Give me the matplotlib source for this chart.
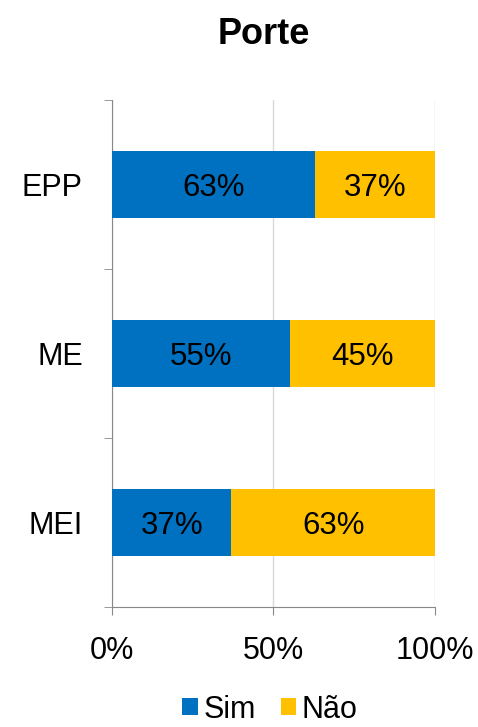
import matplotlib.pyplot as plt
from matplotlib.ticker import FixedLocator

plt.rcParams['font.family'] = ['Liberation Sans', 'DejaVu Sans']

categorias = ['MEI', 'ME', 'EPP']
sim = [37, 55, 63]
nao = [63, 45, 37]

fig = plt.figure(figsize=(4.78, 7.27), dpi=100)
ax = fig.add_axes([0.2343, 0.165, 0.6757, 0.6974])

y = range(len(categorias))
b1 = ax.barh(y, sim, height=0.4, color='#0070C0', label='Sim', zorder=3)
b2 = ax.barh(y, nao, left=sim, height=0.4, color='#FFC000', label='Não', zorder=3)

for i in y:
    ax.text(sim[i] / 2, i - 0.02, f'{sim[i]}%', ha='center', va='center', fontsize=22.5, zorder=4)
    ax.text(sim[i] + nao[i] / 2, i - 0.02, f'{nao[i]}%', ha='center', va='center', fontsize=22.5, zorder=4)

ax.set_xlim(0, 100)
ax.set_ylim(-0.5, 2.5)
ax.set_xticks([0, 50, 100])
ax.set_xticklabels(['0%', '50%', '100%'], fontsize=22)
ax.set_yticks(list(y))
ax.set_yticklabels(categorias, fontsize=22)
ax.yaxis.set_minor_locator(FixedLocator([-0.5, 0.5, 1.5, 2.5]))
ax.tick_params(axis='y', which='major', length=0, pad=21)
ax.tick_params(axis='y', which='minor', length=6, color='#888888')
ax.tick_params(axis='x', length=6, color='#888888', pad=15)

ax.grid(axis='x', color='#D9D9D9', linewidth=1, zorder=0)
for s in ['top', 'right']:
    ax.spines[s].set_visible(False)
ax.spines['left'].set_color('#888888')
ax.spines['bottom'].set_color('#888888')

ax.set_title('Porte', fontsize=26, fontweight='bold', pad=40, x=0.47)
fig.legend(handles=[b1, b2], loc='center', bbox_to_anchor=(0.565, 0.024), ncol=2,
           frameon=False, fontsize=22, handlelength=0.5, handleheight=0.5,
           handletextpad=0.2, columnspacing=0.8)

fig.savefig('out.png', dpi=100)
